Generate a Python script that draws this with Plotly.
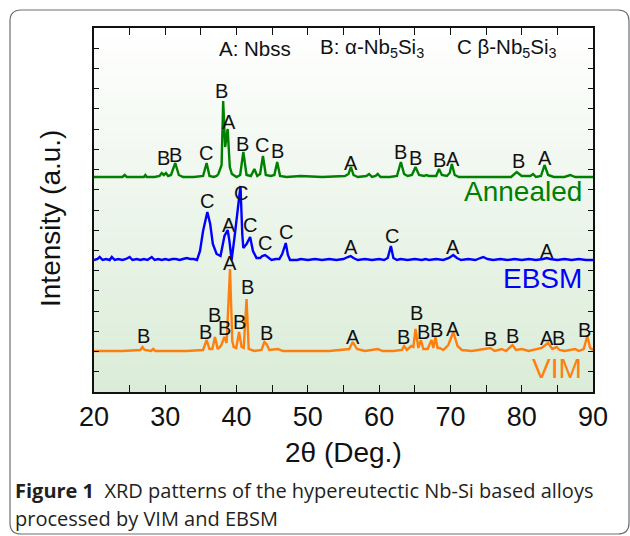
import plotly.graph_objects as go

# ---------------- data (intensity above each pattern's baseline, a.u.) ----------------
annealed_x = [20, 22, 24, 24.3, 24.6, 26, 27, 27.2, 27.4, 28.5, 29.2, 29.5, 29.8, 30.1, 30.4, 30.8,
              31.4, 31.9, 32.5, 34, 35.3, 35.8, 36.2, 36.8, 37.2, 37.45, 37.7, 37.9, 38.12, 38.4,
              38.75, 39.05, 39.35, 40.0, 40.5, 40.95, 41.4, 42.0, 42.5, 42.9, 43.3, 43.7, 44.1,
              44.8, 45.3, 45.7, 46.1, 47, 49, 52, 55.2, 55.7, 56.05, 56.4, 57, 58.2, 58.6, 59, 59.5,
              59.8, 60.2, 61.5, 62.5, 63.05, 63.5, 64, 64.6, 65.1, 65.6, 66.3, 66.6, 67, 68, 68.4,
              68.8, 69.5, 69.9, 70.2, 70.6, 71.2, 73, 76, 78.5, 79.3, 80, 81.2, 81.6, 82, 82.7, 83.2,
              83.7, 84.5, 86, 86.8, 87.5, 88.5, 90]
annealed_y = [0, 0, 0, 2, 0, 0, 0, 2, 0, 0, 1, 4, 2, 4, 1, 2,
              14, 2, 0, 0, 1, 14, 1, 0, 1, 3, 9, 12, 76, 30,
              48, 10, 3, 0, 2, 25, 2, 1, 8, 1, 3, 21, 2,
              1, 2, 15, 1, 0, 1, 0, 1, 3, 10, 2, 0, 1, 3, 0, 1,
              3, 0, 0, 1, 15, 3, 1, 2, 10, 2, 1, 2, 1, 1, 8,
              2, 1, 4, 13, 2, 0, 0, 0, 0, 5, 1, 1, 3, 0, 1, 12,
              2, 0, 0, 2, 0, 0, 0]

ebsm_x = [20, 20.5, 20.8, 21.2, 21.7, 22.2, 22.5, 22.9, 23.4, 24, 24.5, 25, 25.4, 26, 26.5, 27,
          27.5, 28.1, 28.5, 29, 29.5, 30, 30.5, 31, 31.5, 32, 32.5, 33, 33.5, 34, 34.45, 34.87,
          35.3, 35.9, 36.3, 36.67, 37.2, 37.75, 38.3, 38.75, 39.0, 39.3, 39.7, 40.2, 40.55,
          40.8, 40.95, 41.4, 41.9, 42.3, 42.8, 43.3, 43.6, 44.0, 44.4, 44.9, 45.5, 46.0, 46.4,
          46.9, 47.2, 47.5, 48.5, 49, 50, 51, 52, 53, 54, 55, 55.6, 56.0, 56.4, 57, 58, 59, 60,
          60.7, 61.2, 61.65, 62.0, 62.5, 63, 64, 65, 66, 66.5, 67, 68, 69, 69.8, 70.4, 70.9, 71.5,
          72.5, 73.5, 74.2, 74.6, 75.2, 76, 77, 78, 79, 80, 81, 82, 83, 83.5, 84, 85, 86, 87, 88,
          89, 90]
ebsm_y = [1, 2, 4, 1, 2, 1, 4, 1, 2, 1, 2, 4, 1, 2, 1, 2,
          1, 4, 1, 2, 1, 2, 1, 2, 2, 1, 2, 3, 2, 2, 1, 10,
          30, 49, 37, 17, 7, 5, 25, 31, 20, 1, 23, 57, 75,
          27, 13, 17, 24, 10, 3, 3, 5, 6, 4, 1, 2, 2, 7,
          18, 6, 1, 1, 2, 1, 2, 1, 2, 1, 2, 4, 5, 3, 1, 2, 1, 2,
          1, 3, 15, 3, 1, 2, 1, 2, 1, 2, 1, 2, 1, 3, 6, 3, 1,
          2, 1, 3, 4, 2, 1, 2, 1, 2, 1, 2, 1, 2, 3, 2, 1, 2, 1, 2,
          1, 1]

vim_x = [20, 24, 26.5, 26.8, 27.1, 28, 28.3, 28.6, 30, 33, 35.3, 35.8, 36.2, 36.6, 36.97, 37.35,
         37.8, 38.3, 38.6, 39.08, 39.4, 39.6, 39.95, 40.35, 40.7, 41.0, 41.4, 41.7, 42.5, 43.5,
         43.9, 44.2, 44.6, 45.8, 46.5, 50, 53, 55.8, 56.3, 56.9, 58, 59.8, 60.5, 62, 63.2, 63.5,
         63.9, 64.5, 64.8, 65.1, 65.5, 65.85, 66.2, 66.8, 67.35, 67.6, 67.9, 68.2, 68.5, 69,
         69.7, 70.4, 71, 71.6, 73, 75.6, 76.2, 77.2, 77.8, 78.7, 79.2, 80, 81, 82.8, 83.7, 84.3,
         84.9, 85.3, 86, 87.5, 88, 88.7, 89.2, 89.6, 90]
vim_y = [0, 0, 1, 4, 1, 0, 2, 0, 0, 0, 1, 11, 2, 2, 14, 2,
         5, 14, 8, 82, 10, 4, 3, 19, 4, 3, 52, 2, 0, 1,
         9, 7, 1, 2, 0, 0, 0, 2, 9, 2, 0, 2, 0, 0, 1, 5,
         1, 5, 4, 22, 3, 11, 2, 2, 11, 3, 14, 3, 3, 1,
         6, 19, 5, 1, 0, 3, 0, 2, 0, 6, 1, 2, 0, 3, 8, 2,
         4, 1, 0, 2, 0, 2, 15, 3, 1]

# phase labels: letter, 2-theta, label height above baseline
annealed_lbl = ["B", "B", "C", "B", "A", "B", "C", "B", "A", "B", "B", "B", "A", "B", "A"]
annealed_lbl_x = [29.68, 31.5, 35.7, 37.95, 38.94, 40.9, 43.57, 45.8, 56.05, 63.06, 65.1, 68.53, 70.4, 79.5, 83.26]
annealed_lbl_h = [19, 22, 24, 86, 55, 33, 32, 26, 14, 25, 19, 17, 18, 16, 19]

ebsm_lbl = ["C", "A", "C", "C", "C", "C", "A", "C", "A", "A"]
ebsm_lbl_x = [35.88, 38.94, 40.58, 41.88, 44.0, 46.93, 56.05, 61.76, 70.36, 83.5]
ebsm_lbl_h = [60, 36, 68, 36, 18, 29, 14, 25, 14, 10]

vim_lbl = ["B", "B", "B", "B", "A", "B", "B", "B", "A", "B", "B", "B", "B", "A", "B", "B", "A", "B", "B"]
vim_lbl_x = [26.92, 35.71, 36.97, 38.24, 39.08, 40.48, 41.5, 44.2, 56.27, 63.48, 65.17, 66.29,
             68.07, 70.4, 75.64, 78.72, 83.5, 85.13, 88.87]
vim_lbl_h = [15, 19, 36, 23, 88, 29, 64, 18, 14, 14, 38, 19, 21, 22, 12, 15, 13, 13, 21]

series_names = ["Annealed", "EBSM", "VIM"]
x_tickvals = [20, 30, 40, 50, 60, 70, 80, 90]

# ---------------- presentation ----------------
W, H = 630, 536
ML, MR, MT, MB = 94, 37, 28, 144
PW, PH = W - ML - MR, H - MT - MB
Y_MAX = PH  # 1 a.u. drawn per pixel
OFFSETS = {"Annealed": 215, "EBSM": 131, "VIM": 41}
COLORS = {"Annealed": "#008000", "EBSM": "#0000ff", "VIM": "#ff7f0e"}
FONT = "Liberation Sans"
CAP_FONT = "Open Sans"


def pxx(x):
    return (x - ML) / PW


def pxy(y):
    return (H - MB - y) / PH


fig = go.Figure()
data = {"Annealed": (annealed_x, annealed_y), "EBSM": (ebsm_x, ebsm_y), "VIM": (vim_x, vim_y)}
labels = {"Annealed": (annealed_lbl, annealed_lbl_x, annealed_lbl_h),
          "EBSM": (ebsm_lbl, ebsm_lbl_x, ebsm_lbl_h),
          "VIM": (vim_lbl, vim_lbl_x, vim_lbl_h)}

for name in ["VIM", "EBSM", "Annealed"]:
    xs, ys = data[name]
    off = OFFSETS[name]
    fig.add_trace(go.Scatter(x=xs, y=[v + off for v in ys], mode="lines", name=name,
                             line=dict(color=COLORS[name], width=2.4), showlegend=False,
                             hoverinfo="skip"))

annotations = []
for name in ["Annealed", "EBSM", "VIM"]:
    txt, lx, lh = labels[name]
    off = OFFSETS[name]
    for t, x, h in zip(txt, lx, lh):
        annotations.append(dict(x=x, y=off + h, xref="x", yref="y", text=t, showarrow=False,
                                font=dict(family=FONT, size=20, color="#111111"),
                                xanchor="center", yanchor="middle"))

# series names
name_pos = {"Annealed": 191.5, "EBSM": 278, "VIM": 368}
for name in series_names:
    annotations.append(dict(x=pxx(584), y=pxy(name_pos[name]), xref="paper", yref="paper",
                            text=name, showarrow=False, xanchor="right", yanchor="middle",
                            font=dict(family=FONT, size=28, color=COLORS[name])))

# phase key
key_items = [("A: Nbss", 217),
             ("B: \u03b1-Nb<sub>5</sub>Si<sub>3</sub>", 318),
             ("C \u03b2-Nb<sub>5</sub>Si<sub>3</sub>", 455)]
for t, x in key_items:
    annotations.append(dict(x=pxx(x), y=pxy(48), xref="paper", yref="paper", text=t,
                            showarrow=False, xanchor="left", yanchor="middle",
                            font=dict(family=FONT, size=20.5, color="#111111")))

# axis titles
annotations.append(dict(x=pxx(343), y=pxy(452), xref="paper", yref="paper", text="2\u03b8 (Deg.)",
                        showarrow=False, xanchor="center", yanchor="middle",
                        font=dict(family=FONT, size=28, color="#111111")))
annotations.append(dict(x=pxx(50), y=pxy(219), xref="paper", yref="paper", text="Intensity (a.u.)",
                        showarrow=False, xanchor="center", yanchor="middle", textangle=-90,
                        font=dict(family=FONT, size=28, color="#111111")))

# caption
annotations.append(dict(x=pxx(13), y=pxy(490), xref="paper", yref="paper",
                        text="<b>Figure 1</b>  XRD patterns of the hypereutectic Nb-Si based alloys",
                        showarrow=False, xanchor="left", yanchor="middle",
                        font=dict(family=CAP_FONT, size=20, color="#231f20")))
annotations.append(dict(x=pxx(13), y=pxy(518), xref="paper", yref="paper",
                        text="processed by VIM and EBSM",
                        showarrow=False, xanchor="left", yanchor="middle",
                        font=dict(family=CAP_FONT, size=20, color="#231f20")))

# background gradient inside plot area
shapes = []
N = 80
top = (255, 255, 255)
bot = (218, 236, 215)
for i in range(N):
    f = (i + 0.5) / N
    c = tuple(round(top[k] + (bot[k] - top[k]) * f) for k in range(3))
    shapes.append(dict(type="rect", xref="paper", yref="paper", x0=0, x1=1,
                       y0=1 - (i + 1) / N, y1=1 - i / N + 0.002, layer="below",
                       line=dict(width=0), fillcolor="rgb(%d,%d,%d)" % c))

# rounded frame around the figure
fx0, fx1, fy0, fy1, r = 10, 629, 10, 534, 11
path = ("M {a},{b} L {c},{b} Q {d},{b} {d},{e} L {d},{f} Q {d},{g} {c},{g} "
        "L {a},{g} Q {h},{g} {h},{f} L {h},{e} Q {h},{b} {a},{b} Z").format(
    a=pxx(fx0 + r), b=pxy(fy0), c=pxx(fx1 - r), d=pxx(fx1), e=pxy(fy0 + r),
    f=pxy(fy1 - r), g=pxy(fy1), h=pxx(fx0))
shapes.append(dict(type="path", xref="paper", yref="paper", path=path,
                   line=dict(color="#6d6e70", width=1.2), layer="above"))

fig.update_layout(
    width=W, height=H,
    margin=dict(l=ML, r=MR, t=MT, b=MB, pad=0),
    paper_bgcolor="white", plot_bgcolor="white",
    annotations=annotations, shapes=shapes,
    xaxis=dict(range=[20, 90], tickvals=x_tickvals,
               ticks="inside", ticklen=7, tickwidth=1.3, tickcolor="#111111",
               minor=dict(dtick=5, tick0=20, ticks="inside", ticklen=7, tickwidth=1.3,
                          tickcolor="#111111", showgrid=False),
               showline=True, linecolor="#111111", linewidth=1.5, mirror="ticks",
               showgrid=False, zeroline=False,
               tickfont=dict(family=FONT, size=27, color="#111111")),
    yaxis=dict(range=[0, Y_MAX], tick0=0, dtick=Y_MAX / 18.0, ticks="inside", ticklen=5,
               tickwidth=1.3, tickcolor="#111111", showticklabels=False,
               showline=True, linecolor="#111111", linewidth=1.5, mirror="ticks",
               showgrid=False, zeroline=False),
)

fig.write_html("out.html", config={"displayModeBar": False},
               post_script="document.body.style.margin='0';document.body.style.overflow='hidden';")
